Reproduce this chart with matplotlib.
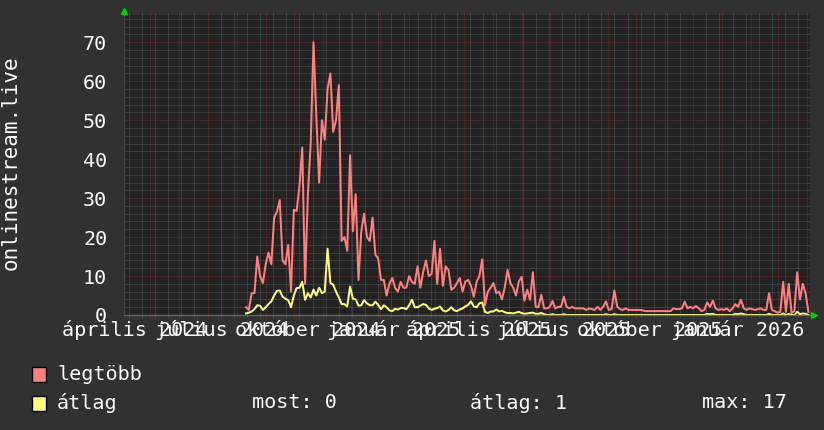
import matplotlib
matplotlib.use("Agg")
import matplotlib.pyplot as plt
import matplotlib.dates as mdates
from matplotlib.patches import Rectangle
from matplotlib.ticker import MultipleLocator
import pandas as pd

# ---------------- data (3-day samples) ----------------
series_start = "2024-08-11"
step = "3D"

legtobb = [
    2, 1.3, 5.6, 5.6, 15, 10, 8.2, 13, 16, 13,
    25, 26.5, 29.5, 14, 13, 18, 6, 27, 26.7, 33,
    43, 8, 31, 44, 70, 51, 34, 50, 45, 58,
    62, 47, 50, 59, 19, 20, 16.5, 41, 21.5, 31,
    9, 21.5, 26, 20, 19, 25, 15.5, 14.5, 9, 9,
    5, 8, 9.5, 7, 6, 8.5, 7, 7, 10, 8.5,
    8, 12.5, 7, 11, 14, 10, 10.5, 19, 8, 17,
    7.5, 12.5, 11.5, 6.5, 7, 8.2, 9.5, 6, 8.6, 9,
    7.5, 4.7, 8.5, 10, 14.3, 2.5, 6, 7, 8.2, 5.6,
    6, 4, 7, 11.6, 8.2, 7, 5, 8.6, 9.8, 3.7,
    6.5, 3.9, 11, 2.1, 2, 5.2, 1.7, 1.7, 2.1, 3.6,
    1.7, 2.1, 2.1, 4.7, 2.1, 1.7, 2.1, 1.7, 1.7, 1.7,
    1.7, 1.3, 1.7, 1.5, 1.3, 2.1, 1.3, 2.1, 3.5, 1.3,
    1.5, 6.3, 2.1, 1.5, 1.3, 1.7, 1.3, 1.3, 1.3, 1.3,
    1.3, 1.2, 1.0, 1.0, 1.0, 1.0, 1.0, 1.0, 1.0, 1.0,
    1.0, 1.0, 1.7, 1.5, 1.5, 1.7, 3.4, 1.7, 2.1, 1.7,
    2.3, 1.7, 1.0, 1.3, 3.2, 2.1, 3.7, 1.7, 1.3, 1.5,
    1.3, 1.7, 1.0, 1.7, 2.8, 2.1, 3.9, 1.7, 1.3, 1.7,
    1.5, 1.3, 1.5, 1.7, 1.3, 1.3, 5.6, 1.3, 1.0, 0.6,
    0.8, 8.5, 0.8, 8, 0.5, 1.0, 11, 4, 8, 5.5,
    0.8,
]

atlag = [
    0.4, 0.6, 0.9, 1.5, 2.5, 2.4, 1.3, 2, 2.8, 3.5,
    5, 6.2, 6.3, 4.7, 4.2, 3.8, 2, 5, 6.9, 7,
    8.5, 3.9, 5.6, 4.5, 6.5, 5, 7, 5.6, 6, 17,
    8.2, 7.8, 6, 4.5, 2.8, 2.8, 2.2, 7.3, 4.2, 4,
    2.4, 2.5, 3.8, 3, 2.5, 2.5, 3.4, 2.6, 1.5, 2.5,
    2, 1.2, 1, 1.6, 1.4, 1.8, 1.8, 1.5, 2.5, 3.9,
    2, 2, 2.4, 2.8, 2.6, 1.7, 1.3, 1.6, 1.8, 2.2,
    1.2, 0.9, 1.3, 2, 1.2, 1, 1.4, 1.7, 2.2, 2.6,
    3.5, 2.2, 2, 3, 3.2, 0.8, 0.5, 0.9, 0.9, 1.4,
    0.9, 1.1, 0.7, 0.5, 0.5, 0.4, 0.6, 0.8, 0.5, 0.3,
    0.4, 0.5, 0.6, 0.3, 0.3, 0.5, 0.2, 0, 0, 0.2,
    0, 0, 0, 0.2, 0, 0, 0, 0, 0, 0,
    0, 0, 0, 0, 0, 0, 0, 0, 0.2, 0,
    0, 0.2, 0, 0, 0, 0, 0, 0, 0, 0,
    0, 0, 0, 0, 0, 0, 0, 0, 0, 0,
    0, 0, 0, 0, 0, 0, 0, 0, 0, 0,
    0, 0, 0, 0, 0.3, 0.2, 0.3, 0, 0, 0,
    0, 0, 0, 0, 0.3, 0.2, 0.4, 0.2, 0, 0,
    0, 0, 0, 0, 0, 0, 0.3, 0, 0, 0,
    0, 0.4, 0, 0.3, 0, 0, 0.8, 0.2, 0.4, 0.3,
    0,
]

x_start = "2024-04-02 20:00"
x_end = "2026-04-04 16:00"
label_dates = ["2024-04-14", "2024-07-16", "2024-10-16", "2025-01-16",
               "2025-04-16", "2025-07-16", "2025-10-16", "2026-01-18"]
label_texts = ["április 2024", "július 2024", "október 2024", "január 2025",
               "április 2025", "július 2025", "október 2025", "január 2026"]
y_label = "onlinestream.live"
legend_rows = [("legtöbb", "#ff8080", []),
               ("átlag", "#ffff80", ["most: 0", "átlag: 1", "max: 17"])]

# ---------------- style ----------------
W, H = 824, 430
BG = "#313131"
PLOT_BG = "#222222"
GRID_MINOR = "#555555"
GRID_MAJOR = "#6c2e2e"
FONT = "DejaVu Sans Mono"
plt.rcParams["font.family"] = [FONT, "DejaVu Sans"]

fig = plt.figure(figsize=(W / 100, H / 100), dpi=100, facecolor=BG)
L, R, T, B = 124, 810, 15, 315
ax = fig.add_axes([L / W, (H - B) / H, (R - L) / W, (B - T) / H])
ax.set_facecolor(PLOT_BG)

dates = pd.date_range(series_start, periods=len(legtobb), freq=step)
ax.plot(dates, legtobb, color="#ff8080", lw=1.45, zorder=2)
ax.plot(dates, atlag, color="#ffff80", lw=1.45, zorder=2.1)

ax.set_xlim(pd.Timestamp(x_start), pd.Timestamp(x_end))
ax.set_ylim(0, 77)

# grids
ax.xaxis.set_major_locator(mdates.MonthLocator())
ax.xaxis.set_minor_locator(mdates.WeekdayLocator(byweekday=mdates.MO, interval=2))
ax.xaxis.set_major_formatter(plt.NullFormatter())
ax.yaxis.set_major_locator(MultipleLocator(10))
ax.yaxis.set_minor_locator(MultipleLocator(2))
ax.set_axisbelow(True)
ax.grid(which="minor", color=GRID_MINOR, lw=0.72, ls=(0, (1, 1)))
ax.grid(which="major", color=GRID_MAJOR, lw=0.72, ls=(0, (1, 1)))

ax.tick_params(axis="x", which="major", length=2, color=GRID_MAJOR, top=True, bottom=True,
               direction="out", width=0.72)
ax.tick_params(axis="x", which="minor", length=1.5, color=GRID_MINOR, top=True, bottom=True,
               direction="out", width=0.72)
ax.tick_params(axis="y", which="both", length=0, pad=12, labelsize=14.5, labelcolor="white")

for s in ("top", "right"):
    ax.spines[s].set_visible(False)
ax.spines["left"].set_color("#444444")
ax.spines["bottom"].set_color("#666666")
ax.spines["bottom"].set_zorder(3)
ax.spines["left"].set_linewidth(1)
ax.spines["bottom"].set_linewidth(1)

# x labels centred on mid-month
xt = ax.get_xaxis_transform()
for d, t in zip(label_dates, label_texts):
    ax.text(pd.Timestamp(d), -15 / (B - T), t, transform=xt, ha="center", va="center",
            color="white", fontsize=14.5, clip_on=False)

# green arrows
ax.plot([0], [1 + 4 / (B - T)], marker="^", color="#00d000", ms=4.5,
        transform=ax.transAxes, clip_on=False, zorder=5)
ax.plot([1 + 4 / (R - L)], [0], marker=">", color="#00d000", ms=4.5,
        transform=ax.transAxes, clip_on=False, zorder=5)

# y label
fig.text(11 / W, (H - 163) / H, y_label, rotation=90, ha="center", va="center",
         color="white", fontsize=15)

# legend
row_y = [374, 403]
col_x = [252, 470, 702]
for (name, col, extras), yy in zip(legend_rows, row_y):
    fig.patches.append(Rectangle((32 / W, (H - yy - 7.5) / H), 14 / W, 15 / H,
                                 transform=fig.transFigure, facecolor=col,
                                 edgecolor="black", lw=1))
    fig.text(57 / W, (H - yy) / H, name, ha="left", va="center", color="white",
             fontsize=14.5)
    for cx, txt in zip(col_x, extras):
        fig.text(cx / W, (H - yy) / H, txt, ha="left", va="center", color="white",
                 fontsize=14.5)

fig.savefig("out.png", dpi=100, facecolor=BG)
